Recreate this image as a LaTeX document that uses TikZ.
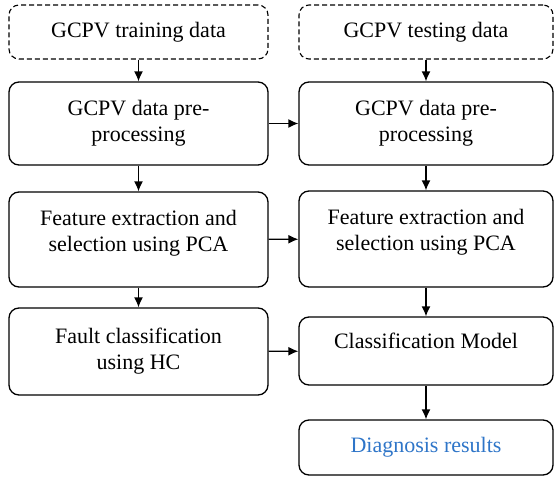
\documentclass[tikz,border=0pt]{standalone}
\usepackage{fontspec}
\setmainfont{Liberation Serif}[Ligatures=TeX]
\usetikzlibrary{arrows.meta}
\definecolor{resblue}{RGB}{46,117,200}

\begin{document}
\begin{tikzpicture}[x=1pt, y=-1pt, line width=1.3pt,
  box/.style={draw=black, rounded corners=10pt, align=center, inner sep=0pt,
    font=\rmfamily\fontsize{22}{26}\selectfont},
  datbox/.style={box, dashed, dash pattern=on 5pt off 3pt, line width=1.1pt},
  flow/.style={-{Latex[length=10pt,width=9pt]}}]
\useasboundingbox (0,0) rectangle (554,479);
% training column
\node[datbox, minimum width=259pt, minimum height=54pt] (train) at (138.5,32) {GCPV training data};
\node[box, minimum width=259pt, minimum height=83pt] (preL) at (138.5,123.5) {GCPV data pre-\\processing};
\node[box, minimum width=259pt, minimum height=95pt, text depth=18pt] (featL) at (138.5,239.5) {Feature extraction and\\selection using PCA};
\node[box, minimum width=259pt, minimum height=87pt] (fault) at (138.5,351.5) {Fault classification\\using HC};
%% testing column
\node[datbox, minimum width=254pt, minimum height=54pt] (test) at (426,32) {GCPV testing data};
\node[box, minimum width=254pt, minimum height=83pt] (preR) at (426,123.5) {GCPV data pre-\\processing};
\node[box, minimum width=254pt, minimum height=96pt, text depth=18pt] (featR) at (426,239) {Feature extraction and\\selection using PCA};
\node[box, minimum width=254pt, minimum height=68pt, text depth=21pt] (class) at (426,351) {Classification Model};
\node[box, minimum width=254pt, minimum height=55pt, text=resblue] (diag) at (426,447.5) {Diagnosis results};
%% arrows
\draw[flow] (train) -- (preL);
\draw[flow] (preL) -- (featL);
\draw[flow] (featL) -- (fault);
\draw[flow] (test) -- (preR);
\draw[flow] (preR) -- (featR);
\draw[flow] (featR) -- (class);
\draw[flow] (class) -- (diag);
\draw[flow] (preL) -- (preR);
\draw[flow] (featL) -- (featR);
\draw[flow] (fault) -- (class);
\end{tikzpicture}
\end{document}
